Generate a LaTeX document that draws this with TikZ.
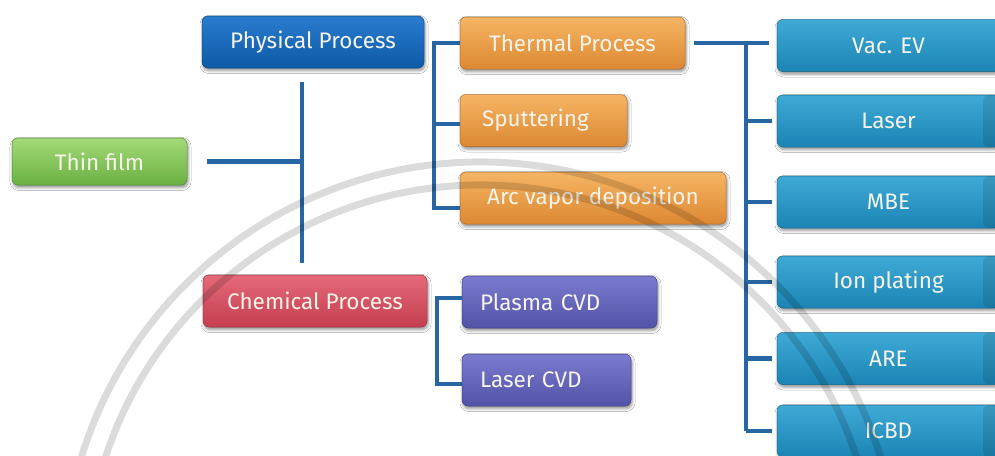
\documentclass[tikz,border=0pt]{standalone}
\usepackage{fontspec}
\setmainfont{Fira Sans}
\usetikzlibrary{shadows.blur,calc}
\definecolor{lineblue}{HTML}{2766A2}
\definecolor{txt}{HTML}{F6F4EA}
\definecolor{grnT}{HTML}{A4DA78}\definecolor{grnB}{HTML}{6AB042}
\definecolor{phyT}{HTML}{2A7CCF}\definecolor{phyB}{HTML}{0D5AA6}
\definecolor{orgT}{HTML}{F5B564}\definecolor{orgB}{HTML}{DD8832}
\definecolor{redT}{HTML}{E46A7A}\definecolor{redB}{HTML}{C43E4E}
\definecolor{purT}{HTML}{7B7BCF}\definecolor{purB}{HTML}{5252A6}
\definecolor{cyaT}{HTML}{3FAAD6}\definecolor{cyaB}{HTML}{1B84B4}
\tikzset{
  bx/.style n args={2}{rounded corners=6pt, top color=#1, bottom color=#2,
    draw=#2!80!black, line width=0.5pt, text=txt, font=\fontsize{22.5}{26}\selectfont,
    blur shadow={shadow xshift=1pt, shadow yshift=-2.5pt, shadow blur radius=3pt, shadow opacity=45},
    minimum height=52pt, inner sep=0pt},
  lft/.style={text width=#1, align=left},
  strip/.style={path picture={\fill[black,opacity=0.10]
      ([xshift=-17pt]path picture bounding box.north east) rectangle (path picture bounding box.south east);}},
  ln/.style={draw=lineblue, line width=4.5pt},
  wm/.style={draw=black, opacity=0.14, line width=7pt}
}
\begin{document}
\begin{tikzpicture}[x=1pt,y=-1pt]
\fill[white] (0,0) rectangle (995,455);
\useasboundingbox (0,0) rectangle (995,455);
\clip (0,0) rectangle (995,455);

% nodes
\node[bx={grnT}{grnB}, minimum width=175pt, minimum height=47pt] (thin) at (99.5,161.5) {Thin film};
\node[bx={phyT}{phyB}, minimum width=222pt] (phys) at (313,42) {Physical Process};
\node[bx={redT}{redB}, minimum width=224pt] (chem) at (315,301) {Chemical Process};

\node[bx={orgT}{orgB}, minimum width=225pt] (therm) at (572.5,43) {Thermal Process};
\node[bx={orgT}{orgB}, lft=123pt, inner xsep=22pt, minimum width=167pt] (sput) at (543.5,120.5) {Sputtering};
\node[bx={orgT}{orgB}, minimum width=266pt] (arcv) at (593,198) {Arc vapor deposition};

\node[bx={purT}{purB}, lft=159pt, inner xsep=18pt, minimum width=195pt] (plasma) at (559.5,302) {Plasma CVD};
\node[bx={purT}{purB}, lft=133pt, inner xsep=18pt, minimum width=169pt] (lcvd) at (546.5,380) {Laser CVD};

\node[bx={cyaT}{cyaB}, minimum width=223pt] (vac) at (888.5,45.5) {Vac. EV};
\node[bx={cyaT}{cyaB}, strip, minimum width=223pt] (laser) at (888.5,121) {Laser};
\node[bx={cyaT}{cyaB}, strip, minimum width=223pt] (mbe) at (888.5,202) {MBE};
\node[bx={cyaT}{cyaB}, strip, minimum width=223pt] (ion) at (888.5,282) {Ion plating};
\node[bx={cyaT}{cyaB}, strip, minimum width=223pt] (are) at (888.5,358.5) {ARE};
\node[bx={cyaT}{cyaB}, strip, minimum width=223pt] (icbd) at (888.5,431) {ICBD};

% trunk between thin film, physical and chemical
\coordinate (tj) at (302,161.5);
\coordinate (ttop) at (302,82);
\coordinate (tbot) at (302,263);
\draw[ln] ([xshift=20pt]thin.east) -- (tj);
\draw[ln] (ttop) -- (tbot);

% physical bracket
\coordinate (pb1) at (434,43);
\coordinate (pb2) at (434,124);
\coordinate (pb3) at (434,208);
\draw[ln] (therm.west) -- (pb1) -- (pb3) -- (pb3 -| arcv.west);
\draw[ln] (pb2) -- (pb2 -| sput.west);

% chemical bracket
\coordinate (cb1) at (437,298);
\coordinate (cb2) at (437,384);
\draw[ln] (cb1 -| plasma.west) -- (cb1) -- (cb2) -- (cb2 -| lcvd.west);

% thermal spine
\coordinate (s1) at (746,43);
\coordinate (s6) at (746,431);
\coordinate (send) at (769,43);
\draw[ln] ([xshift=9pt]therm.east) -- (send);
\draw[ln] (s1) -- (s6);
\foreach \b in {laser,mbe,ion,are,icbd}{
  \draw[ln] (s1 |- \b.west) -- ([xshift=-5pt]\b.west);
}

% faint watermark arcs
\draw[wm] (481,580) ++(190:418) arc[start angle=190, end angle=350, radius=418];
\draw[wm] (481,580) ++(190:395) arc[start angle=190, end angle=350, radius=395];
\end{tikzpicture}
\end{document}
